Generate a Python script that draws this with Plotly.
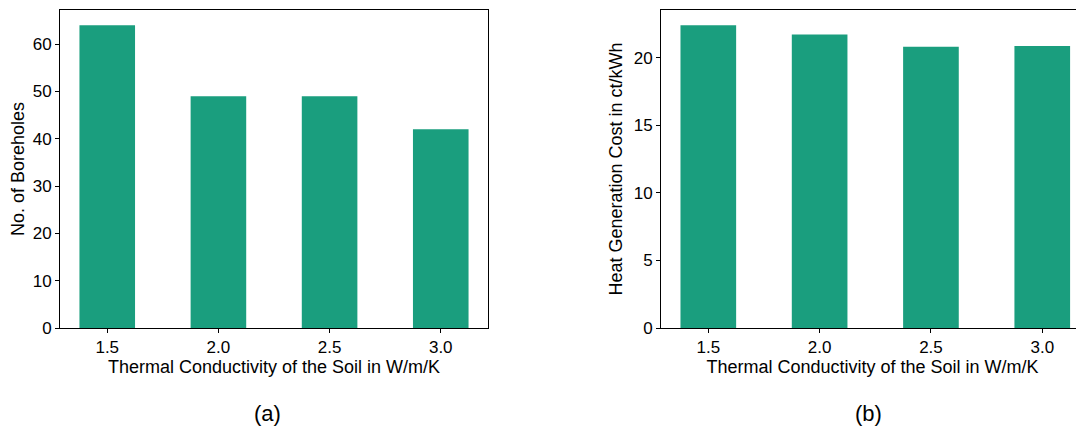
import plotly.graph_objects as go

categories = ["1.5", "2.0", "2.5", "3.0"]
boreholes = [64, 49, 49, 42]
heat_cost = [22.4, 21.7, 20.8, 20.85]
y1_ticks = [0, 10, 20, 30, 40, 50, 60]
y2_ticks = [0, 5, 10, 15, 20]

BAR = "#1a9e7e"
FONT = "Liberation Sans, Arial, sans-serif"
OFF = 8  # page body margin offset of the plot div
W, H = 1084 - OFF, 430 - OFF
# target screen coordinates (window pixels)
PLOT_L, PLOT_T, PLOT_B = 60, 9.5, 328
ML, MR, MT, MB = PLOT_L - OFF, 0, PLOT_T - OFF, (430 - PLOT_B)
PW, PH = W - ML - MR, H - MT - MB


def px(x):
    return (x - OFF - ML) / PW


def py(y):
    return (H - MB - (y - OFF)) / PH


fig = go.Figure()
fig.add_trace(go.Bar(x=categories, y=boreholes, width=0.5, marker_color=BAR,
                     marker_line_width=0, xaxis="x", yaxis="y"))
fig.add_trace(go.Bar(x=categories, y=heat_cost, width=0.5, marker_color=BAR,
                     marker_line_width=0, xaxis="x2", yaxis="y2"))

axis_common = dict(showgrid=False, zeroline=False, showline=True, linecolor="black",
                   linewidth=1, ticks="outside", ticklen=4, tickcolor="black",
                   automargin=False,
                   tickfont=dict(family=FONT, size=17, color="black"))

TFONT = dict(family=FONT, size=18, color="black")

fig.update_layout(
    template="none",
    width=W, height=H,
    margin=dict(l=ML, r=MR, t=MT, b=MB, pad=0),
    paper_bgcolor="white", plot_bgcolor="white",
    showlegend=False,
    font=dict(family=FONT, color="black"),
    xaxis=dict(domain=[0, px(488)], type="category", range=[-0.425, 3.425],
               mirror=True, anchor="y",
               title=dict(text="Thermal Conductivity of the Soil in W/m/K",
                          font=TFONT, standoff=2),
               **axis_common),
    yaxis=dict(domain=[0, 1], range=[0, 67.2], tickvals=y1_ticks, mirror=True,
               anchor="x",
               title=dict(text="No. of Boreholes", font=TFONT, standoff=6),
               **axis_common),
    xaxis2=dict(domain=[px(661), 1], type="category", range=[-0.425, 3.375],
                mirror=True, anchor="y2",
                title=dict(text="Thermal Conductivity of the Soil in W/m/K",
                           font=TFONT, standoff=2),
                **axis_common),
    yaxis2=dict(domain=[0, 1], range=[0, 23.52], tickvals=y2_ticks, anchor="x2",
                title=dict(text="Heat Generation Cost in ct/kWh", font=TFONT,
                           standoff=6),
                **axis_common),
    annotations=[
        dict(text="(a)", x=px(267), y=py(414), xref="paper", yref="paper",
             xanchor="center", yanchor="middle", showarrow=False,
             font=dict(family=FONT, size=22, color="black")),
        dict(text="(b)", x=px(868), y=py(414), xref="paper", yref="paper",
             xanchor="center", yanchor="middle", showarrow=False,
             font=dict(family=FONT, size=22, color="black")),
    ],
)

fig.write_html("out.html")
